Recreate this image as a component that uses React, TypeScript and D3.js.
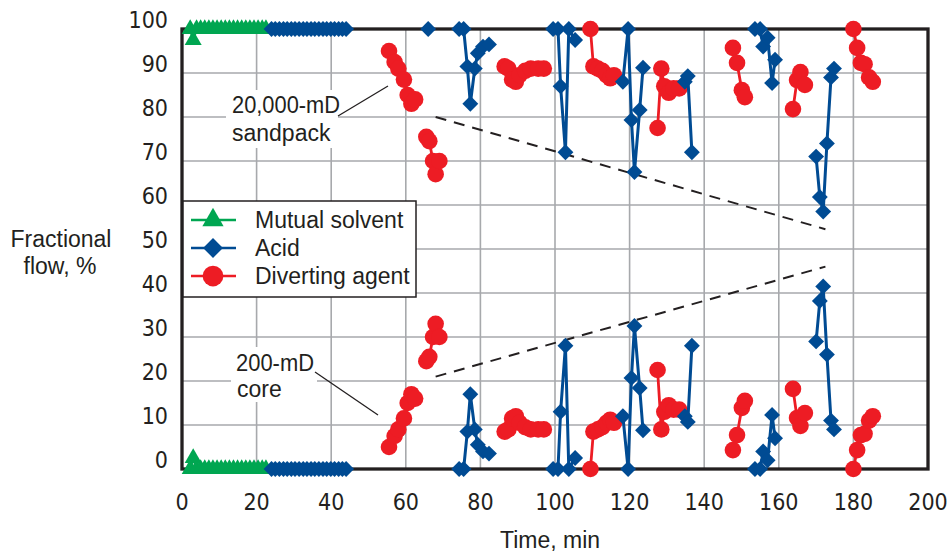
import React from "react";
import * as d3 from "d3";

// ---- data ----
const xTicks = [0, 20, 40, 60, 80, 100, 120, 140, 160, 180, 200];
const yTicks = [0, 10, 20, 30, 40, 50, 60, 70, 80, 90, 100];

// Mutual solvent: time, fraction to 20,000-mD sandpack, fraction to 200-mD core
const msTime = [[2.2, 3, 3.9, 5, 6.1, 7.2, 8.3, 9.4, 10.5, 11.6, 12.7, 13.8, 14.9, 16, 17.1, 18.2, 19.3, 20.4, 21.5, 22.5]];
const msSand = [[100, 97.5, 100, 100, 100, 100, 100, 100, 100, 100, 100, 100, 100, 100, 100, 100, 100, 100, 100, 100]];
const msCore = [[0, 2.5, 0, 0, 0, 0, 0, 0, 0, 0, 0, 0, 0, 0, 0, 0, 0, 0, 0, 0]];

// Acid
const acidTime = [
  [24, 25, 26.1, 27.2, 28.2, 29.3, 30.3, 31.4, 32.5, 33.5, 34.6, 35.6, 36.7, 37.8, 38.8, 39.9, 40.9, 42, 43, 44],
  [66],
  [74.3, 75.5, 76.5, 77.3, 78.5, 79.3, 80.7, 82.3],
  [99.5, 100.8, 101.5, 102.8, 103.7, 105.4],
  [118.2, 119.6, 120.5, 121.3, 122.7, 123.6],
  [134.8, 135.6, 136.7],
  [153.6, 155, 155.8, 157, 158.2, 159],
  [170, 171, 171.9, 172.9, 174, 174.8],
];
const acidSand = [
  [100, 100, 100, 100, 100, 100, 100, 100, 100, 100, 100, 100, 100, 100, 100, 100, 100, 100, 100, 100],
  [100],
  [100, 100, 91.5, 83, 91, 94.5, 96, 96.5],
  [100, 100, 87, 72, 100, 97.5],
  [88, 100, 79.3, 67.5, 81.6, 91.2],
  [88, 89.3, 72],
  [100, 100, 96, 98, 87.7, 93],
  [71, 61.8, 58.5, 74, 89, 91],
];
const acidCore = [
  [0, 0, 0, 0, 0, 0, 0, 0, 0, 0, 0, 0, 0, 0, 0, 0, 0, 0, 0, 0],
  [null],
  [0, 0, 8.5, 17, 9, 5.5, 4, 3.5],
  [0, 0, 13, 28, 0, 2.5],
  [12, 0, 20.7, 32.5, 18.4, 8.8],
  [12, 10.7, 28],
  [0, 0, 4, 2, 12.3, 7],
  [29, 38.2, 41.5, 26, 11, 9],
];

// Diverting agent
const divTime = [
  [55.5, 57, 58, 59.5, 60.5, 61.5, 62.5],
  [65.5, 66.3, 67.3, 68, 69],
  [86.5, 87.5, 88.5, 89.5, 90.5, 92, 93.5, 95.5, 97],
  [109.5, 110.3, 111.5, 112.7, 113.8, 114.8, 115.8],
  [127.5, 128.5, 129.3, 130.5, 131.8, 133.3],
  [147.7, 148.8, 150.1, 150.9],
  [163.8, 164.9, 165.8, 167],
  [180, 181, 182, 183, 184.2, 185.2],
];
const divSand = [
  [95, 92.5, 91, 88.5, 85, 83, 84],
  [75.5, 74.5, 70, 67, 70],
  [91.5, 91, 88.5, 88, 89.5, 90.5, 91, 91, 91],
  [100, 91.5, 91, 90.5, 89.5, 88.8, 89.5],
  [77.5, 91, 87, 85.5, 86.5, 86.5],
  [95.7, 92.3, 86.1, 84.5],
  [81.8, 88.4, 90.2, 87.3],
  [100, 95.7, 92.3, 92, 89, 88],
];
const divCore = [
  [5, 7.5, 9, 11.5, 15, 17, 16],
  [24.5, 25.5, 30, 33, 30],
  [8.5, 9, 11.5, 12, 10.5, 9.5, 9, 9, 9],
  [0, 8.5, 9, 9.5, 10.5, 11.2, 10.5],
  [22.5, 9, 13, 14.5, 13.5, 13.5],
  [4.3, 7.7, 13.9, 15.5],
  [18.2, 11.6, 9.8, 12.7],
  [0, 4.3, 7.7, 8, 11, 12],
];

// trend lines (dashed)
const trendSand = [[68, 80], [172.5, 54.5]];
const trendCore = [[68, 21], [172.5, 46]];

const legendItems = ["Mutual solvent", "Acid", "Diverting agent"];

// ---- layout ----
const W = 949, H = 555;
const L = 182, R = 928, T = 29, B = 469;
const GREEN = "#00a651", BLUE = "#004b93", RED = "#ed1c24", INK = "#231f20", GRID = "#a7a9ac";
const WORD_FONT = "'Liberation Sans', Arial, sans-serif";
const NUM_FONT = "'Liberation Sans Narrow', 'DejaVu Sans Condensed', 'Liberation Sans', sans-serif";

const x = d3.scaleLinear().domain([0, 200]).range([L, R]);
const y = d3.scaleLinear().domain([0, 100]).range([B, T]);

const triPath = d3.symbol(d3.symbolTriangle, 125)() as string;
const diaPath = d3.symbol(d3.symbolSquare, 126)() as string;

type Pt = [number, number | null];

function zipSeg(t: number[], v: (number | null)[]): Pt[] {
  return t.map((tt, i) => [tt, v[i]] as Pt);
}

const lineGen = d3
  .line<Pt>()
  .defined((d) => d[1] != null)
  .x((d) => x(d[0]))
  .y((d) => y(d[1] as number));

function Marker({ kind, cx, cy, color, s = 1 }: { kind: string; cx: number; cy: number; color: string; s?: number }) {
  if (kind === "tri") return <path d={triPath} transform={`translate(${cx},${cy}) scale(${s})`} fill={color} />;
  if (kind === "dia") return <path d={diaPath} transform={`translate(${cx},${cy}) scale(${s}) rotate(45)`} fill={color} />;
  return <circle cx={cx} cy={cy} r={8.3 * s} fill={color} />;
}

function Series({ times, vals, color, kind, lw }: { times: number[][]; vals: (number | null)[][]; color: string; kind: string; lw: number }) {
  return (
    <g>
      {times.map((t, si) => {
        const pts = zipSeg(t, vals[si]);
        return (
          <g key={si}>
            <path d={lineGen(pts) || ""} fill="none" stroke={color} strokeWidth={lw} strokeLinejoin="round" />
            {pts
              .filter((p) => p[1] != null)
              .map((p, i) => (
                <Marker key={i} kind={kind} cx={x(p[0])} cy={y(p[1] as number)} color={color} />
              ))}
          </g>
        );
      })}
    </g>
  );
}

export default function App() {
  const legendKinds = ["tri", "dia", "dot"];
  const legendColors = [GREEN, BLUE, RED];
  const legendY = [220, 248, 276];
  const legendBase = [228, 256, 284];
  return (
    <svg width={W} height={H} style={{ position: "absolute", left: 0, top: 0, background: "#fff" }}>
      {/* grid */}
      {xTicks.slice(1, -1).map((v) => (
        <line key={"gx" + v} x1={x(v)} x2={x(v)} y1={T} y2={B} stroke={GRID} strokeWidth={1.6} />
      ))}
      {yTicks.slice(1, -1).map((v) => (
        <line key={"gy" + v} x1={L} x2={R} y1={y(v)} y2={y(v)} stroke={GRID} strokeWidth={1.6} />
      ))}

      {/* annotation backgrounds */}
      <rect x={226} y={90} width={112} height={58} fill="#fff" />
      <rect x={231} y={347} width={86} height={55} fill="#fff" />

      {/* dashed trends */}
      <line x1={x(trendSand[0][0])} y1={y(trendSand[0][1])} x2={x(trendSand[1][0])} y2={y(trendSand[1][1])} stroke={INK} strokeWidth={2} strokeDasharray="11 8" />
      <line x1={x(trendCore[0][0])} y1={y(trendCore[0][1])} x2={x(trendCore[1][0])} y2={y(trendCore[1][1])} stroke={INK} strokeWidth={2} strokeDasharray="11 8" />

      {/* annotations */}
      <g fontFamily={WORD_FONT} fontSize={23} fill={INK}>
        <text x={232} y={113} textLength={108} lengthAdjust="spacingAndGlyphs">20,000-mD</text>
        <text x={232} y={141}>sandpack</text>
        <text x={236} y={371} textLength={78} lengthAdjust="spacingAndGlyphs">200-mD</text>
        <text x={237} y={397}>core</text>
      </g>
      <line x1={338} y1={116} x2={388} y2={86} stroke={INK} strokeWidth={1.3} />
      <line x1={315} y1={372} x2={378} y2={415} stroke={INK} strokeWidth={1.3} />

      {/* frame */}
      <rect x={L} y={T} width={R - L} height={B - T} fill="none" stroke={INK} strokeWidth={3.3} />

      {/* legend */}
      <rect x={183} y={201} width={233} height={96} fill="#fff" stroke={INK} strokeWidth={1.5} />
      {legendItems.map((name, i) => (
        <g key={name}>
          <line x1={191} x2={236} y1={legendY[i]} y2={legendY[i]} stroke={legendColors[i]} strokeWidth={2.5} />
          <Marker kind={legendKinds[i]} cx={213} cy={legendY[i]} color={legendColors[i]} s={1.25} />
          <text x={255} y={legendBase[i]} fontFamily={WORD_FONT} fontSize={23} fill={INK}>
            {name}
          </text>
        </g>
      ))}

      {/* data */}
      <Series times={msTime} vals={msSand} color={GREEN} kind="tri" lw={2.5} />
      <Series times={msTime} vals={msCore} color={GREEN} kind="tri" lw={2.5} />
      <Series times={divTime} vals={divSand} color={RED} kind="dot" lw={2.8} />
      <Series times={divTime} vals={divCore} color={RED} kind="dot" lw={2.8} />
      <Series times={acidTime} vals={acidSand} color={BLUE} kind="dia" lw={3} />
      <Series times={acidTime} vals={acidCore} color={BLUE} kind="dia" lw={3} />

      {/* tick labels */}
      <g fontFamily={NUM_FONT} fontSize={23} fill={INK}>
        {yTicks.map((v) => (
          <text key={"ty" + v} x={168} y={y(v) - 1} textAnchor="end">
            {v}
          </text>
        ))}
        {xTicks.map((v) => (
          <text key={"tx" + v} x={x(v)} y={510} textAnchor="middle">
            {v}
          </text>
        ))}
      </g>

      {/* axis titles */}
      <g fontFamily={WORD_FONT} fontSize={23} fill={INK} textAnchor="middle">
        <text x={61} y={247}>Fractional</text>
        <text x={60} y={274}>flow, %</text>
        <text x={550} y={548}>Time, min</text>
      </g>
    </svg>
  );
}
